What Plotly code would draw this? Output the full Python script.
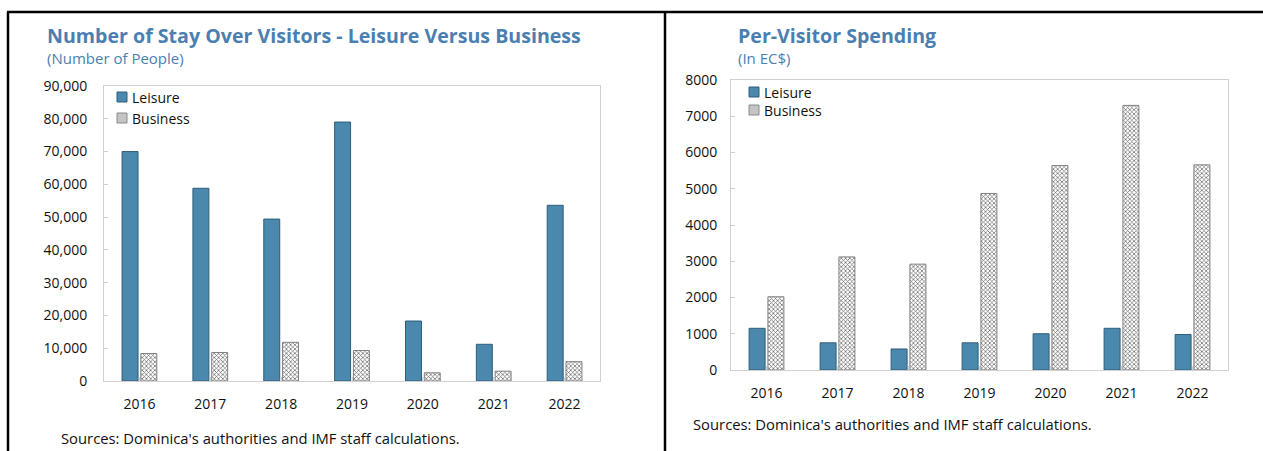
import plotly.graph_objects as go

years = ["2016", "2017", "2018", "2019", "2020", "2021", "2022"]
visitors_leisure = [70000, 58800, 49400, 79000, 18300, 11200, 53600]
visitors_business = [8400, 8700, 11800, 9300, 2500, 3000, 5900]
spend_leisure = [1150, 750, 580, 750, 1000, 1150, 980]
spend_business = [2020, 3120, 2920, 4870, 5640, 7300, 5660]
series_names = ["Leisure", "Business"]

W, H = 1263, 451
BLUE = "#4a88ad"
BLUE_EDGE = "#2e5d7a"
TITLE_C = "#4a7fb0"
FONT = "Open Sans"


def px(x):
    return x / W


def py(y):
    return 1 - y / H


fig = go.Figure()

pattern = dict(shape="x", size=3, solidity=0.4, fgcolor="#606060", bgcolor="#ffffff")
leisure_marker = dict(color=BLUE, line=dict(color=BLUE_EDGE, width=1))
business_marker = dict(color="#ffffff", pattern=pattern, line=dict(color="#808080", width=1))

fig.add_trace(go.Bar(x=years, y=visitors_leisure, name=series_names[0], xaxis="x", yaxis="y",
                     marker=leisure_marker, showlegend=False))
fig.add_trace(go.Bar(x=years, y=visitors_business, name=series_names[1], xaxis="x", yaxis="y",
                     marker=business_marker, showlegend=False))
fig.add_trace(go.Bar(x=years, y=spend_leisure, name=series_names[0], xaxis="x2", yaxis="y2",
                     marker=leisure_marker, showlegend=False))
fig.add_trace(go.Bar(x=years, y=spend_business, name=series_names[1], xaxis="x2", yaxis="y2",
                     marker=business_marker, showlegend=False))

axis_common = dict(showgrid=False, zeroline=False, showline=True, linecolor="#d0d0d0",
                   linewidth=1, mirror=True, automargin=False,
                   tickfont=dict(size=14, color="#111111", family=FONT))

fig.update_layout(
    template="none",
    width=W, height=H, autosize=False,
    margin=dict(l=0, r=0, t=0, b=0, pad=0, autoexpand=False),
    paper_bgcolor="white", plot_bgcolor="white",
    barmode="group", bargap=0.47, bargroupgap=0.15,
    font=dict(family=FONT, size=14, color="#111111"),
    xaxis=dict(domain=[px(104), px(600)], anchor="y", ticks="inside", ticklen=4,
               tickcolor="#d0d0d0", tickson="boundaries", ticklabelstandoff=10, **axis_common),
    yaxis=dict(domain=[py(381), py(86)], anchor="x", range=[0, 90000], dtick=10000,
               tickformat=",", ticks="inside", ticklen=4, tickcolor="#d0d0d0",
               ticklabelstandoff=13, **axis_common),
    xaxis2=dict(domain=[px(731), px(1228)], anchor="y2", ticks="inside", ticklen=4,
                tickcolor="#d0d0d0", tickson="boundaries", ticklabelstandoff=10, **axis_common),
    yaxis2=dict(domain=[py(370), py(80)], anchor="x2", range=[0, 8000], dtick=1000,
                tickformat="d", ticks="inside", ticklen=4, tickcolor="#d0d0d0",
                ticklabelstandoff=10, **axis_common),
    showlegend=False,
)

annotations = [
    dict(text="<b>Number of Stay Over Visitors - Leisure Versus Business</b>", x=px(45), y=py(35),
         font=dict(size=19.6, color=TITLE_C, family=FONT)),
    dict(text="(Number of People)", x=px(45), y=py(58), font=dict(size=15, color=TITLE_C, family=FONT)),
    dict(text="Sources: Dominica's authorities and IMF staff calculations.", x=px(59), y=py(438),
         font=dict(size=14.8, color="#111111", family=FONT)),
    dict(text="<b>Per-Visitor Spending</b>", x=px(736), y=py(35),
         font=dict(size=19.6, color=TITLE_C, family=FONT)),
    dict(text="(In EC$)", x=px(736), y=py(58), font=dict(size=15, color=TITLE_C, family=FONT)),
    dict(text="Sources: Dominica's authorities and IMF staff calculations.", x=px(691), y=py(424),
         font=dict(size=14.8, color="#111111", family=FONT)),
]

# manual legends (symbol squares + labels)
legend_specs = [
    (117, 97, 118),   # left chart: square x, leisure y, business y
    (749, 92, 110),   # right chart
]
for lx, ly1, ly2 in legend_specs:
    for name, yy, fill, edge in [(series_names[0], ly1, BLUE, BLUE_EDGE),
                                 (series_names[1], ly2, "#c4c4c4", "#8a8a8a")]:
        fig.add_shape(type="rect", xref="paper", yref="paper",
                      x0=px(lx), x1=px(lx + 10), y0=py(yy + 5), y1=py(yy - 5),
                      fillcolor=fill, line=dict(color=edge, width=1))
        annotations.append(dict(text=name, x=px(lx + 13), y=py(yy),
                                font=dict(size=14, color="#111111", family=FONT)))

for a in annotations:
    fig.add_annotation(xref="paper", yref="paper", xanchor="left", yanchor="middle",
                       showarrow=False, **a)

line = dict(color="black", width=2.5)
fig.add_shape(type="line", xref="paper", yref="paper", x0=px(7), x1=1, y0=py(12), y1=py(12), line=line)
fig.add_shape(type="line", xref="paper", yref="paper", x0=px(8), x1=px(8), y0=py(12), y1=0, line=line)
fig.add_shape(type="line", xref="paper", yref="paper", x0=px(665), x1=px(665), y0=py(12), y1=0, line=line)

post = (
    "document.documentElement.style.margin='0';"
    "document.body.style.margin='0';"
    "document.body.style.overflow='hidden';"
)

fig.write_html("out.html", config={"displayModeBar": False}, post_script=post)
